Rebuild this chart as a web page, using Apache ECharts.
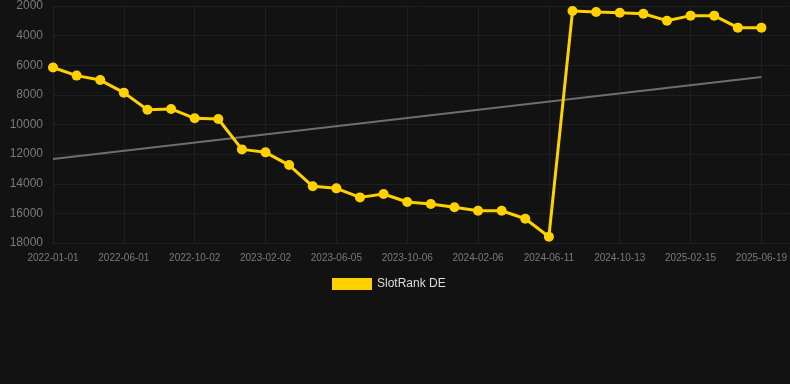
<!DOCTYPE html>
<html>
<head>
<meta charset="utf-8">
<script src="https://cdn.jsdelivr.net/npm/echarts@6/dist/echarts.min.js"></script>
<style>
html,body{margin:0;padding:0;background:#121212;}
#c{width:790px;height:384px;}
</style>
</head>
<body>
<div id="c"></div>
<script>
var dates = ['2022-01-01','2022-02-20','2022-04-11','2022-06-01','2022-07-12','2022-08-22','2022-10-02','2022-11-12','2022-12-23','2023-02-02','2023-03-15','2023-04-25','2023-06-05','2023-07-16','2023-08-26','2023-10-06','2023-11-16','2023-12-27','2024-02-06','2024-03-18','2024-04-30','2024-06-11','2024-07-22','2024-09-02','2024-10-13','2024-11-24','2025-01-04','2025-02-15','2025-03-28','2025-05-09','2025-06-19'];
var slotRank = [6150,6700,7000,7850,9000,8950,9580,9630,11680,11880,12740,14170,14310,14920,14690,15230,15370,15590,15820,15820,16360,17580,2340,2400,2450,2520,2990,2650,2650,3460,3460];
var trendStart = 12330;
var trendEnd = 6790;
var yTicks = [2000,4000,6000,8000,10000,12000,14000,16000,18000];

var mainData = slotRank.map(function(v,i){return [i,v];});
var trendData = [[0,trendStart],[dates.length-1,trendEnd]];

var chart = echarts.init(document.getElementById('c'));
chart.setOption({
  backgroundColor:'#121212',
  animation:false,
  grid:{left:53,right:0,top:6,bottom:141},
  legend:{
    data:['SlotRank DE'],
    top:273,
    left:327,
    itemWidth:40,
    itemHeight:12,
    icon:'rect',
    textStyle:{color:'#dddddd',fontSize:12}
  },
  xAxis:{
    type:'value',
    min:0,
    max:31.2,
    interval:3,
    axisLine:{show:false},
    axisTick:{show:false},
    splitLine:{show:true,lineStyle:{color:'#202020',width:1}},
    axisLabel:{
      color:'#7a7a7a',
      fontSize:10,
      margin:10,
      showMaxLabel:false,
      formatter:function(v){return dates[v]||'';}
    }
  },
  yAxis:{
    type:'value',
    inverse:true,
    min:yTicks[0],
    max:yTicks[yTicks.length-1],
    interval:2000,
    axisLine:{show:false},
    axisTick:{show:false},
    splitLine:{lineStyle:{color:'#202020',width:1}},
    axisLabel:{color:'#7a7a7a',fontSize:12,margin:10,formatter:function(v){return String(v);}}
  },
  series:[
    {
      name:'Trend',
      type:'line',
      data:trendData,
      symbol:'none',
      lineStyle:{color:'#6e6e6e',width:2},
      silent:true,
      z:1
    },
    {
      name:'SlotRank DE',
      type:'line',
      data:mainData,
      symbol:'circle',
      symbolSize:10,
      itemStyle:{color:'#ffd100'},
      lineStyle:{color:'#ffd100',width:3},
      z:2
    }
  ]
});
</script>
</body>
</html>
